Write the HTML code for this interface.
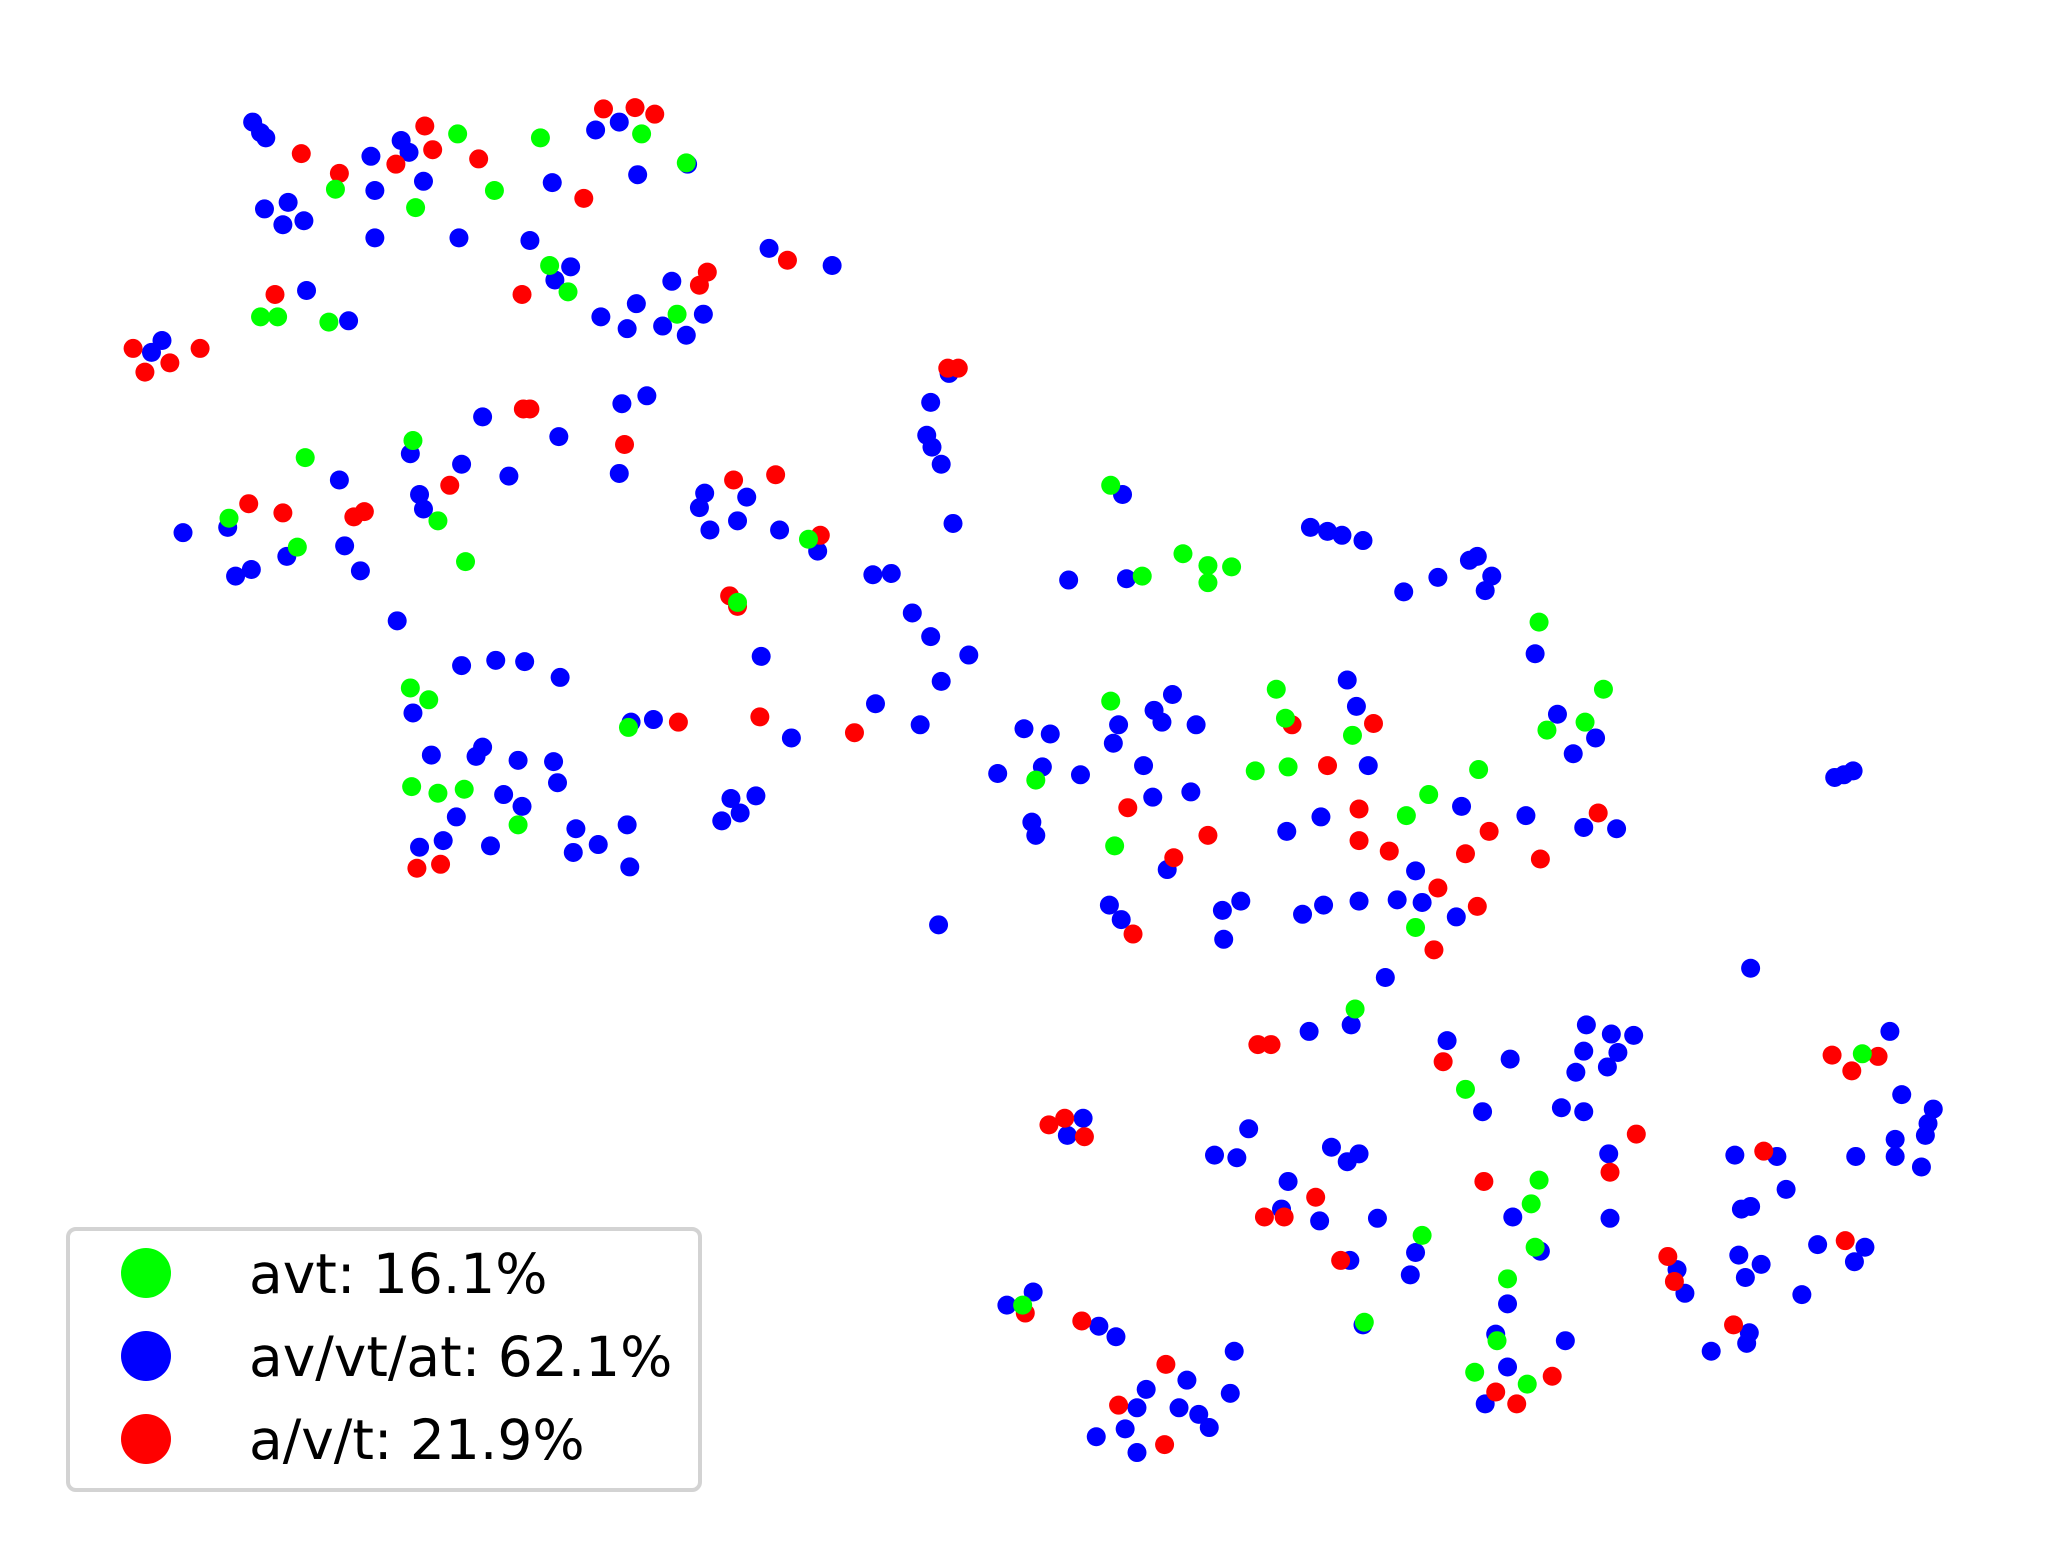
<!DOCTYPE html>
<html><head><meta charset="utf-8"><style>
html,body{margin:0;padding:0;background:#fff;}
svg{display:block;}
</style></head><body>
<svg id="chart" width="2063" height="1558" viewBox="0 0 2063 1558" xmlns="http://www.w3.org/2000/svg">
<rect x="0" y="0" width="2063" height="1558" fill="#fff"/>
<g id="points"></g>
<g>
<rect x="68" y="1229" width="632" height="261" rx="8" ry="8" fill="#fff" stroke="#d3d3d3" stroke-width="4"/>
<circle cx="146" cy="1273" r="25" fill="#00ff00"/>
<circle cx="146" cy="1356" r="25" fill="#0000ff"/>
<circle cx="146" cy="1439" r="25" fill="#ff0000"/>
<text x="249" y="1293" font-family="'DejaVu Sans','Liberation Sans',sans-serif" font-size="55" fill="#000">avt: 16.1%</text>
<text x="249" y="1376" font-family="'DejaVu Sans','Liberation Sans',sans-serif" font-size="55" fill="#000">av/vt/at: 62.1%</text>
<text x="249" y="1459" font-family="'DejaVu Sans','Liberation Sans',sans-serif" font-size="55" fill="#000">a/v/t: 21.9%</text>
</g>
</svg>
<script>
const greenPts = [[346,101],[409,104],[486,101],[253,143],[314,157],[374,144],[416,201],[430,221],[513,238],[196,240],[209,240],[248,244],[312,334],[230,347],[172,393],[224,415],[331,395],[352,426],[559,457],[613,409],[310,522],[324,531],[476,552],[311,597],[331,602],[351,599],[392,626],[843,368],[898,420],[867,437],[917,429],[935,430],[917,442],[1169,472],[1218,523],[1204,548],[1175,554],[969,523],[976,545],[1027,558],[843,532],[953,585],[978,582],[1123,584],[786,592],[1085,603],[1068,619],[846,642],[1075,704],[1029,766],[1113,827],[1415,800],[1169,896],[1163,914],[1166,947],[1080,938],[1145,971],[1036,1004],[1137,1018],[776,991],[1120,1042],[1160,1051],[520,123]];
const redPts = [[457,82],[481,81],[496,86],[321,95],[227,116],[327,113],[362,120],[299,124],[256,131],[442,150],[597,197],[536,206],[530,216],[395,223],[207,223],[99,264],[150,264],[127,275],[108,282],[719,279],[727,279],[396,310],[401,310],[473,337],[340,368],[187,382],[213,389],[267,392],[275,388],[556,364],[588,360],[622,406],[553,452],[559,460],[576,544],[514,548],[648,556],[315,659],[333,656],[981,550],[1043,549],[1008,581],[856,613],[1032,614],[917,634],[1032,638],[1055,646],[1131,631],[1113,648],[1170,652],[1214,617],[891,651],[1092,674],[1122,688],[860,709],[1089,721],[955,793],[965,793],[1096,806],[1392,801],[1427,802],[1407,813],[796,854],[808,849],[823,863],[1243,861],[1340,874],[1223,890],[1127,897],[999,909],[960,924],[975,924],[1018,957],[1267,954],[1272,973],[1402,942],[778,997],[821,1003],[1317,1006],[885,1036],[849,1067],[884,1097],[1136,1057],[1152,1066],[1179,1045]];
const bluePts = [[190,92],[196,100],[200,104],[280,118],[303,106],[309,115],[320,137],[283,144],[199,158],[217,153],[213,170],[229,167],[283,180],[347,180],[418,138],[451,98],[469,92],[483,132],[521,124],[401,182],[420,212],[432,202],[231,220],[263,243],[455,240],[475,249],[482,230],[502,247],[509,213],[520,254],[533,238],[583,188],[631,201],[113,267],[121,258],
[471,306],[490,300],[365,316],[423,331],[310,344],[349,352],[385,361],[469,359],[256,364],[317,375],[320,386],[137,404],[171,400],[216,422],[260,414],[177,437],[189,432],[272,433],[300,471],[530,385],[534,374],[566,377],[538,402],[559,395],[591,402],[620,418],[577,498],[349,505],[375,501],[397,502],[424,514],[312,541],[478,548],[495,546],[600,560],[326,573],[360,574],[365,567],[392,577],[419,578],[422,594],[381,603],[395,612],[345,620],[317,643],[335,638],[371,642],[436,629],[434,647],[453,641],[475,626],[477,658],[554,606],[573,604],[547,623],[561,617],
[720,283],[706,305],[703,330],[707,339],[714,352],[723,397],[662,436],[676,435],[692,465],[706,483],[735,497],[714,517],[664,534],[698,550],[712,702],
[811,440],[852,375],[855,439],[995,400],[1008,403],[1019,406],[1035,410],[1066,449],[1092,438],[1116,425],[1122,422],[1133,437],[1128,448],[1166,496],[1023,516],[1030,536],[1183,542],[1212,560],[1195,572],[777,553],[797,557],[849,550],[876,539],[882,548],[890,527],[908,550],[845,564],[757,587],[791,582],[820,588],[868,581],[875,605],[904,601],[1039,581],[1110,612],[1159,619],[1203,628],[1228,629],[977,631],[1003,620],[783,624],[786,634],[886,660],[842,687],[851,698],[928,691],[942,684],[929,713],[989,694],[1005,687],[1032,684],[1061,683],[1080,685],[1075,661],[1106,696],[1052,742],[1330,735],[1394,590],[1401,588],[1408,585],
[994,783],[1026,778],[1099,790],[1147,804],[1205,778],[1224,785],[1241,786],[1203,798],[1229,799],[1221,810],[1197,814],[1126,844],[1186,841],[1203,844],[1436,783],[1445,831],[1469,842],[1465,853],[1463,862],[1440,865],[1440,878],[1460,886],[1410,878],[1350,878],[1318,877],[1357,903],[1330,916],[1323,918],[1222,876],[1223,925],[1149,924],[1170,950],[1145,990],[1136,1013],[1189,1018],[1145,1038],[1128,1066],[1075,951],[1071,968],[1046,925],[1025,957],[1002,927],[1011,871],[1023,882],[1032,876],[978,897],[948,857],[922,877],[939,879],[973,918],[822,849],[810,862],[1035,1006],[1274,964],[1280,982],[1321,953],[1338,960],[1326,970],[1300,1026],[1327,1020],[1329,1012],[1369,983],[1381,945],[1417,947],[1409,958],[784,981],[764,991],[834,1007],[847,1015],[937,1026],[870,1055],[901,1048],[863,1069],[895,1069],[910,1074],[918,1084],[934,1058],[832,1091],[854,1085],[863,1103]];

function xScale(v){ return v*1.314+3; }
function yScale(v){ return v*1.316+1; }
const g = document.getElementById('points');
const NS = 'http://www.w3.org/2000/svg';
function draw(pts, color, name){
  pts.forEach(function(p){
    const c = document.createElementNS(NS,'circle');
    c.setAttribute('cx', xScale(p[0]));
    c.setAttribute('cy', yScale(p[1]));
    c.setAttribute('r', 9.5);
    c.setAttribute('fill', color);
    
    
    g.appendChild(c);
  });
}
draw(bluePts, '#0000ff', 'point-av-vt-at');
draw(redPts, '#ff0000', 'point-a-v-t');
draw(greenPts, '#00ff00', 'point-avt');
</script>
</body></html>
